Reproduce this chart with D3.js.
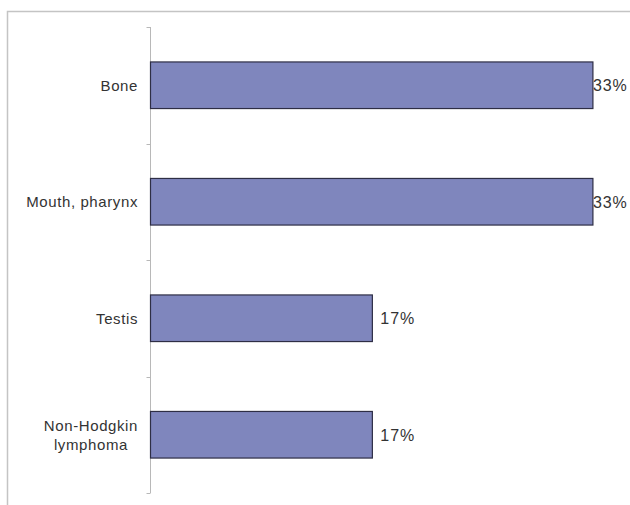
<!DOCTYPE html>
<html><head><meta charset="utf-8">
<script src="https://cdn.jsdelivr.net/npm/d3@7/dist/d3.min.js"></script>
<style>
html,body{margin:0;padding:0;background:#fff;}
svg{display:block;}
text{font-family:"Liberation Sans",Arial,sans-serif;fill:#333;}
</style></head><body>
<svg id="c" width="630" height="505"></svg>
<script>
const categories = ["Bone", "Mouth, pharynx", "Testis", "Non-Hodgkin lymphoma"];
const categoryLines = [["Bone"], ["Mouth, pharynx"], ["Testis"], ["Non-Hodgkin", "lymphoma"]];
const values = [0.333, 0.333, 0.167, 0.167];
const valueLabels = ["33%", "33%", "17%", "17%"];

(function () {
const svg = d3.select("#c");
const W = 630, H = 505;

// outer chart border (extends past right/bottom edge)
svg.append("rect").attr("x", 7.5).attr("y", 11.5).attr("width", 640).attr("height", 520)
  .attr("fill", "none").attr("stroke", "#c4c4c4").attr("stroke-width", 1.5);

const x0 = 150.5;
const plotTop = 27, plotBottom = 493;
const x = d3.scaleLinear().domain([0, 0.35]).range([x0, x0 + 465]);
const y = d3.scaleBand().domain(categories).range([plotTop, plotBottom]).paddingInner(0.6).paddingOuter(0.3);

// axis line with ticks at band boundaries
const bandEdges = d3.range(categories.length + 1).map(i => plotTop + i * (plotBottom - plotTop) / categories.length);
svg.append("line").attr("x1", x0).attr("x2", x0).attr("y1", plotTop).attr("y2", plotBottom)
  .attr("stroke", "#b8b8b8").attr("stroke-width", 1);
svg.selectAll(".tk").data(bandEdges).enter().append("line")
  .attr("x1", x0 - 4).attr("x2", x0).attr("y1", d => Math.round(d) + 0.5).attr("y2", d => Math.round(d) + 0.5)
  .attr("stroke", "#b8b8b8");

// bars
svg.selectAll(".bar").data(categories).enter().append("rect")
  .attr("x", x(0)).attr("y", d => y(d))
  .attr("width", (d, i) => x(values[i]) - x(0)).attr("height", y.bandwidth())
  .attr("fill", "#7f86bd").attr("stroke", "#2e2e45").attr("stroke-width", 1.2);

// category labels (multi-line labels centred on each other, block right-aligned)
const labelRight = 138;
const lab = svg.selectAll(".cl").data(categories).enter().append("text")
  .attr("font-size", 15).style("letter-spacing", "0.6px")
  .attr("transform", d => `translate(${labelRight},${y(d) + y.bandwidth() / 2})`);
lab.each(function (d, i) {
  const lines = categoryLines[i];
  const t = d3.select(this);
  const spans = lines.map((ln, j) => t.append("tspan")
      .attr("y", (j - (lines.length - 1) / 2) * 19)
      .attr("dy", "0.35em").text(ln));
  const widths = spans.map(s => s.node().getComputedTextLength());
  const maxW = d3.max(widths);
  spans.forEach((s, j) => s.attr("x", -maxW / 2 - widths[j] / 2));
});

// value labels
svg.selectAll(".vl").data(categories).enter().append("text")
  .attr("x", (d, i) => Math.min(x(values[i]) + 8, W - 37))
  .attr("y", d => y(d) + y.bandwidth() / 2).attr("dy", "0.36em")
  .attr("font-size", 16).style("letter-spacing", "0.9px")
  .text((d, i) => valueLabels[i]);
})();
</script>
</body></html>
